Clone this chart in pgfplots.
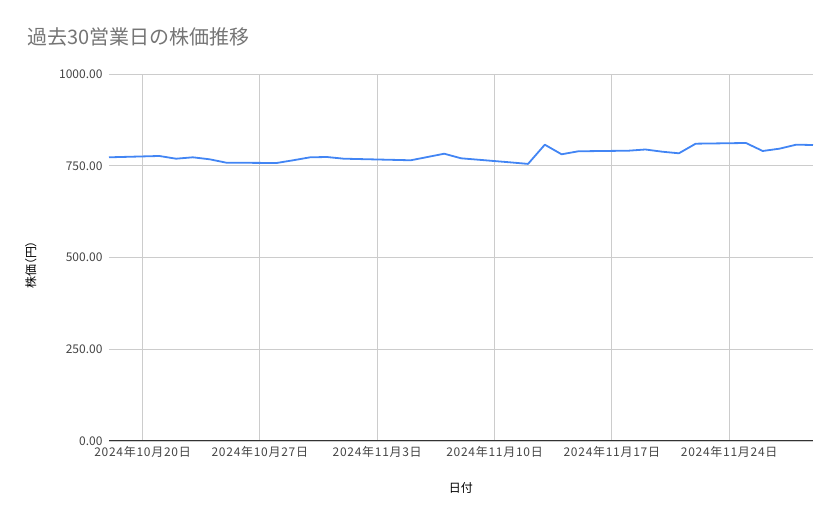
\documentclass[border=0pt]{standalone}
\usepackage{fontspec}
\setmainfont{Noto Sans CJK JP}
\usepackage{pgfplots}
\pgfplotsset{compat=1.18}

\definecolor{lineblue}{HTML}{4285F4}
\definecolor{gridgray}{HTML}{CCCCCC}
\definecolor{titlegray}{HTML}{757575}
\definecolor{tickgray}{HTML}{444444}
\definecolor{basegray}{HTML}{333333}

% day 0 = 2024-10-20, closing price (yen)
\pgfplotstableread{
day price
-2 773.0
1  776.6
2  769.2
3  773.0
4  767.6
5  758.3
8  757.5
9  765.0
10 773.0
11 773.8
12 769.2
16 764.9
17 773.8
18 782.8
19 770.3
22 759.0
23 755.0
24 807.4
25 781.2
26 789.4
29 791.0
30 794.3
31 788.3
32 783.9
33 810.1
36 812.0
37 790.2
38 796.5
39 807.4
40 806.5
}\stock

\begin{document}
\begin{tikzpicture}[x=1pt,y=1pt]
\path (0,0) rectangle (839,519);
\node[anchor=base west, inner sep=0, text=titlegray,
      font=\fontsize{20}{24}\selectfont] at (27,474) {過去30営業日の株価推移};
\begin{axis}[
    at={(109pt,78pt)}, anchor=south west,
    width=704pt, height=367pt, scale only axis,
    xmin=-2, xmax=40, ymin=0, ymax=1000,
    axis x line=bottom, axis y line=left,
    x axis line style={draw=basegray, line width=1pt, -},
    y axis line style={draw=none},
    major tick length=0pt,
    xtick={0,7,14,21,28,35},
    xticklabels={2024年10月20日,2024年10月27日,2024年11月3日,2024年11月10日,2024年11月17日,2024年11月24日},
    ytick={0,250,500,750,1000},
    yticklabel={\pgfmathprintnumber[fixed,fixed zerofill,precision=2,1000 sep={}]{\tick}},
    /pgf/number format/assume math mode=true,
    xticklabel style={text=tickgray, yshift=-2pt,
        font=\fontsize{12}{14}\selectfont\addfontfeature{LetterSpace=6}},
    yticklabel style={text=tickgray, xshift=-3pt, font=\fontsize{12}{14}\selectfont},
    xmajorgrids, ymajorgrids,
    grid style={draw=gridgray, line width=0.9pt},
    xlabel={日付}, ylabel={株価（円）},
    xlabel style={at={(axis description cs:0.5,-0.128)}, anchor=center,
        font=\fontsize{12}{14}\selectfont, text=black},
    ylabel style={at={(axis description cs:-0.111,0.48)}, anchor=center, rotate=0,
        font=\fontsize{12}{14}\selectfont\addfontfeature{RawFeature=+palt}, text=black},
    clip=false,
]
\addplot[lineblue, line width=1.8pt, line join=round, no marks] table[x=day, y=price] {\stock};
\end{axis}
\end{tikzpicture}
\end{document}
